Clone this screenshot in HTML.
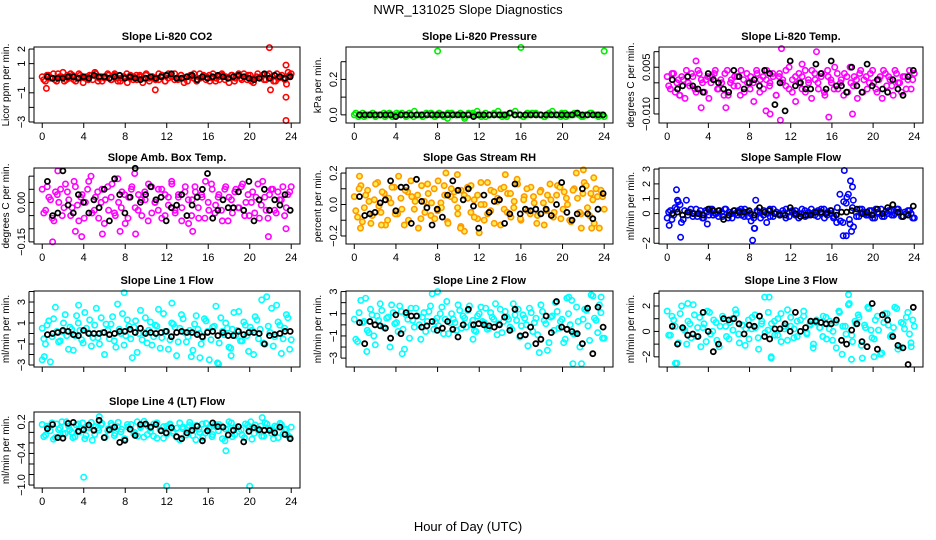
<!DOCTYPE html>
<html><head><meta charset="utf-8"><style>
html,body{margin:0;padding:0;background:#fff;}
svg{display:block;font-family:"Liberation Sans",Arial,sans-serif;}
</style></head><body>
<svg id="chart" width="936" height="540" viewBox="0 0 936 540" xmlns="http://www.w3.org/2000/svg">
<rect width="936" height="540" fill="#fff"/>
<text x="468" y="14" text-anchor="middle" font-size="13">NWR_131025  Slope Diagnostics</text>
<text x="468" y="531" text-anchor="middle" font-size="13">Hour of Day (UTC)</text>
</svg>
<script>
const xTicks = [0,4,8,12,16,20,24];

const co2A = [0.1,-0.2,0.2,0,-0.1,0.3,0.1,-0.2,0.2,0.3,-0.1,0,0.2,-0.3,0.1,0.2,-0.1,0.3,0,-0.2,0.1,0.2,-0.1,0.3,-0.2,0,0.1,-0.3,0.2,0.1,-0.1,0.2,0,0.3,-0.2,0.1,0,-0.1,0.2,-0.2,0.3,0.1,-0.1,0,0.2,-0.3,0.1,0.2,0,-0.2,0.3,0.1,-0.1,0.2,0,-0.2,0.1,0.3,-0.1,0,0.2,-0.2,0.1,0,0.3,-0.1,0.2,-0.3,0.1,0,0.2,-0.1,0.3,0.1,-0.2,0,0.2,-0.1,0.1,0.3];
const co2B = [-0.1,0.2,0,0.3,-0.2,0.1,0.4,-0.1,0,0.2,-0.2,0.3,0.1,0,-0.1,0.2,0.4,-0.2,0.1,0,0.3,-0.1,0.2,0,-0.2,0.1,0.3,0,-0.1,0.2,0.1,-0.3,0.2,0,0.1,-0.1,0.3,0.2,-0.2,0,0.1,0.3,-0.1,0.2,0,-0.2,0.1,0.3,-0.1,0,0.2,0.1,-0.2,0.3,0,-0.1,0.2,0.1,-0.3,0.2,0,0.3,-0.1,0.1,0.2,-0.2,0,0.3,0.1,-0.1,0.2,0,-0.2,0.3,0.1,0,-0.4,0.2];
const co2Black = [0.1,0,0,0,0.1,0.1,0,0.1,0,0.2,0.1,0.1,0,0.1,0.2,0,0.1,0,-0.1,0,0.1,0,0.1,0.2,0.3,0,0,0.1,0.2,-0.1,0.1,0,0.1,0.2,0.1,0,0.1,0.2,0.1,0,-0.1,0,0.3,0,0.2,0.1,0,0.1];
const co2OutX = [0.4,10.9,21.9,22,23.5,23.5,23.5,23.7];
const co2OutY = [-0.7,-0.8,2.1,-0.8,0.9,-1.3,-2.9,0.4];

const presA = [0,-0.01,0.01,0,0,-0.01,0,0.01,0,-0.01,0.01,0,0,0.01,-0.01,0,0,0.01,0,-0.01,0.01,0,-0.02,0.01,0,0,-0.01,0.01,0,0.02,0,-0.01,0,0.01,0,0,-0.01,0.01,0.02,0,-0.01,0,0.01,0,0,-0.01,0.01,0,0,0.01,-0.01,0,0.01,0,-0.01,0,0.01,0,0,-0.01];
const presB = [0.01,0,-0.01,0,0.01,0,0,-0.01,0.01,0,0,0.01,-0.01,0,0.02,0,-0.01,0,0.01,0,0,-0.01,0.01,0,0,0.01,-0.02,0,0.01,0,-0.01,0.01,0,0,0.02,-0.01,0,0.01,0,0,-0.01,0.01,0,0.01,0,-0.01,0,0.02,0,-0.01,0.01,0,0,0.01,-0.01,0,0.01,0,-0.01,0];
const presBlack = [0,0,0,0,0,0,0,-0.01,0,0,0,0,0,0,0,0,0,0,0,0,0,0,-0.01,0,0,0,0,0,0,0.01,0,0,0,0,0,0,0,0,0,0,0,0,0.01,0,0,0,0,0];
const presOutX = [8,16,24];
const presOutY = [0.36,0.38,0.36];

const tempA = [0.002,-0.002,0.003,0,-0.004,0.001,0.004,-0.001,0.002,-0.003,0.003,0,0.001,-0.005,0.002,0.004,-0.002,0,0.003,-0.004,0.001,0.002,-0.001,0.004,-0.003,0,0.002,-0.006,0.003,0.001,-0.002,0.004,0,0.002,-0.004,0.003,0.001,-0.001,0.005,-0.003,0.002,0,-0.002,0.004,0.001,-0.005,0.003,0,0.002,-0.003,0.004,0.001,-0.002,0.003,0,-0.004,0.002,0.005,-0.001,0.001,0.003,-0.003,0.002,0,0.004,-0.002,0.001,-0.005,0.003,0.002,-0.001,0.004,0,-0.003,0.002,0.001,-0.002,0.003];
const tempB = [-0.001,0.003,-0.003,0.001,0.002,-0.005,0,0.003,-0.002,0.004,0.001,-0.003,0.002,0,0.003,-0.002,0.001,-0.004,0.004,0,-0.001,0.002,-0.004,0.001,0.003,-0.002,0,0.004,-0.003,0.002,0.001,-0.001,0.003,-0.004,0.002,0,0.004,-0.002,0.001,-0.006,0.003,0.002,-0.003,0,0.004,0.001,-0.002,0.003,-0.004,0.002,0,0.005,-0.002,0.001,0.003,-0.003,0,0.002,-0.005,0.004,0.001,-0.002,0.003,0,-0.003,0.002,0.004,-0.001,0.001,-0.004,0.003,0,0.002,-0.002,0.004,0.001];
const tempBlack = [0.001,-0.002,-0.001,0.002,-0.001,-0.002,-0.003,0.003,0.001,0,-0.002,-0.003,0.004,0.002,-0.002,0,0.001,-0.001,0.004,0.003,-0.007,0,-0.009,0.007,-0.001,0,-0.002,-0.002,0.006,0.003,-0.002,0.007,-0.001,-0.001,-0.003,0.005,-0.001,-0.003,0.006,-0.001,0.001,-0.002,-0.003,0.001,-0.002,-0.004,0.002,0.004];
const tempOutX = [1.2,3.3,5.7,9.6,10,11,11.1,14.5,15.7,18,13.1,2.8];
const tempOutY = [-0.004,-0.008,-0.008,-0.009,-0.010,-0.012,0.011,0.010,-0.011,-0.010,0.006,0.007];

const ambA = [0.05,-0.03,0.02,-0.06,0.04,0,-0.05,0.07,0.01,-0.02,0.06,-0.07,0.03,0,0.08,-0.04,0.02,-0.06,0.05,0.01,-0.03,0.07,-0.05,0,0.04,-0.08,0.02,0.06,-0.02,0.03,-0.05,0.01,0.07,-0.04,0,0.05,-0.06,0.03,-0.01,0.08,-0.03,0.02,-0.07,0.04,0.01,-0.05,0.06,-0.02,0.03,-0.06,0,0.07,-0.04,0.02,-0.03,0.05,-0.07,0.01,0.04,-0.02,0.06,-0.05,0.03,0,-0.04,0.07,-0.01,0.02,-0.06,0.05,-0.03,0.04,0.01,-0.05,0.03,0.06];
const ambB = [-0.04,0.06,0.01,-0.07,0.03,0.05,-0.02,0.04,-0.05,0.08,-0.01,0.02,-0.06,0.05,0.1,-0.03,0.04,0,-0.08,0.06,0.02,-0.04,0.09,-0.02,0.03,-0.06,0.05,0.11,-0.03,0.01,0.04,-0.07,0.06,0,-0.03,0.05,-0.05,0.02,0.07,-0.04,0.03,-0.02,0.06,-0.08,0.01,0.04,-0.06,0.02,0.08,-0.03,0.05,-0.01,0.03,-0.07,0.06,0.02,-0.04,0.05,-0.02,0.07,0,-0.05,0.04,0.02,-0.06,0.08,-0.03,0.03,0.05,-0.04,0.01,0.06,-0.02,0.04];
const ambBlack = [0.08,-0.05,-0.04,0.12,-0.01,-0.04,0.03,0,-0.04,0.01,-0.02,0.05,-0.07,0.09,0.03,-0.04,0.02,0.13,0,0.03,0.06,0.01,0.02,-0.07,-0.02,-0.01,0.03,-0.05,-0.01,0.02,0.05,0.11,-0.06,-0.03,0.01,-0.02,-0.02,0.04,-0.03,0.08,-0.07,0.01,0.05,-0.03,0.01,-0.01,0.03,-0.03];
const ambOutX = [1,3.2,3.8,5.8,7.5,9,14.5,21.8,23.5,1.5];
const ambOutY = [-0.15,-0.11,-0.13,-0.12,-0.11,-0.12,-0.11,-0.13,-0.1,0.12];

const rhA = [0.05,-0.08,0.12,-0.02,0.09,-0.12,0.03,0.14,-0.05,0.07,-0.1,0.01,0.11,-0.06,0.04,-0.13,0.08,0.15,-0.03,0.06,-0.09,0.02,0.13,-0.07,0.1,-0.04,0.01,0.12,-0.11,0.05,0.08,-0.02,-0.14,0.06,0.11,-0.05,0.03,-0.09,0.14,0,-0.06,0.09,-0.12,0.04,0.1,-0.03,0.07,-0.08,0.02,0.13,-0.1,0.05,-0.04,0.11,0.01,-0.07,0.09,-0.13,0.06,0.03,-0.05,0.12,-0.09,0.08,0,-0.11,0.1,0.04,-0.06,0.14,-0.02,0.07,-0.12,0.05,0.09,-0.03];
const rhB = [-0.04,0.1,-0.11,0.06,0.02,-0.07,0.13,-0.01,0.08,-0.13,0.04,0.11,-0.06,0.18,-0.03,0.09,-0.1,0.05,0.02,-0.15,0.12,-0.05,0.07,0.01,-0.09,0.15,-0.02,0.06,-0.12,0.1,0.03,-0.06,0.09,-0.17,0.04,0.12,-0.08,0.06,0,-0.1,0.14,-0.04,0.08,0.02,-0.13,0.11,-0.05,0.07,-0.02,0.16,-0.09,0.03,0.1,-0.06,0.05,-0.12,0.08,0.01,-0.04,0.13,-0.08,0.06,0.11,-0.03,0.04,-0.1,0.09,0.2,-0.05,0.07,0.12,-0.07,0.03,0.1,-0.15,0.05];
const rhBlack = [0.05,-0.07,-0.06,-0.05,0.01,0.03,0.15,-0.04,0.11,0.11,-0.12,0.16,0.02,-0.02,-0.13,-0.03,-0.08,0.06,0.15,0.09,0.03,0.1,-0.01,-0.15,0.06,-0.05,0.02,0.03,-0.12,-0.06,0.13,-0.06,-0.03,-0.04,-0.03,-0.06,-0.03,-0.07,0,0.14,-0.05,-0.1,-0.06,0.1,-0.06,-0.09,-0.03,0.07];
const rhOutX = [0.5,0.6,2.6,8.8,9.9,10.2,12,14.5,22,22.8,21.8,23];
const rhOutY = [0.18,-0.15,-0.13,0.2,0.19,-0.15,-0.18,0.19,0.22,-0.15,-0.15,0.17];

const sfA = [-0.3,0.2,-0.1,0.3,0.6,-0.4,0.9,0.1,-0.2,0.3,0,-0.3,0.2,-0.1,0.3,0,-0.2,0.1,0.3,-0.3,0,0.2,-0.1,0.3,-0.2,0.1,0,-0.3,0.2,0.1,-0.1,-0.6,0.3,-0.2,0.1,0,0.2,-0.3,0.1,0.2,-0.1,0,0.3,-0.2,0.1,0,-0.1,0.2,0.3,-0.3,0.1,0,-0.2,0.4,-0.5,0.8,1.1,-0.7,0.9,-0.2,0.3,0.1,-0.1,0.2,-0.3,0.3,0,-0.2,0.1,0.2,-0.1,0,0.3,-0.2,0.1,0.2,0,-0.3];
const sfB = [0.1,-0.4,0.4,0.8,-0.6,0.2,-0.1,0.3,0,-0.2,0.2,-0.3,0.1,0.3,-0.1,0,0.2,-0.2,0.3,0.1,-0.3,0,0.2,-0.1,0.3,-0.2,-0.5,-1,0.1,-0.3,0.2,0,-0.2,0.3,0.1,-0.1,0,0.3,-0.2,0.1,0.2,-0.3,0,0.2,-0.1,0.3,0.1,-0.2,0,0.3,-0.1,0.2,-0.3,-0.6,1.3,-0.6,0.7,-0.4,0.4,0.1,-0.2,0.3,0,-0.1,0.2,-0.3,0.1,0.3,-0.2,0,0.2,-0.1,0.3,0.1,-0.2,0,0.2,-0.3];
const sfBlack = [0,0.1,-0.1,0.1,0,0,-0.1,0.3,0.2,0.2,-0.4,-0.1,0.2,0.1,0.1,0.2,-0.1,0.4,0.1,0.2,0,-0.1,-0.1,0.4,0,-0.2,-0.1,-0.1,0.1,0.1,0,0.2,-0.1,0.1,0.1,0.2,0.3,0,0.1,-0.1,0.3,0,0.4,0.6,0.1,-0.2,-0.1,0.5];
const sfOutX = [0.2,0.9,1,1.3,3.9,8.3,8.5,8.6,17.2,17.6,17.8,18,18.1,17.1,17.4,17.9];
const sfOutY = [-0.8,1.6,0.9,-1.6,-0.7,-1.8,-1,0.9,2.9,1.3,2.2,1.8,-0.9,-1.5,-1.5,-1.2];

const l1A = [0.5,-1,1.2,-0.3,2.5,-0.8,0.2,1.8,-1.5,0.4,-0.2,1,-0.6,2,0.1,-1.2,0.8,-0.4,1.5,-2,0.3,0.9,-0.7,2.8,0,-1.1,1.3,-0.5,0.6,-1.8,2.2,0.1,-0.9,1.1,-0.3,0.7,-1.4,1.9,0.2,-0.6,0.9,-2.1,0.5,1.4,-0.8,0.3,-1.6,1.7,0,-0.4,1.2,-2.5,0.6,2.6,-0.9,0.2,1,-1.3,0.4,-0.2,2.1,-0.7,0.8,-1.7,0.3,1.6,-0.5,3.2,-1,0.7,2.4,-0.3,1.1,-1.9,0.5,1.5,-0.6];
const l1B = [-0.5,0.8,-2.7,1.4,0.2,-0.7,1,-0.2,0.6,-1.6,1.7,0.3,-0.9,0.5,1.3,-0.4,2.4,-1,0.1,0.9,-0.5,1.6,-1.3,0.4,1.9,-0.2,0.7,-2.3,1.2,0,-0.6,1.5,0.3,-1.1,0.8,2.3,-0.4,0.2,-1.5,1,0.6,-0.8,1.8,0.1,-0.3,-2.2,0.9,0.4,-1,1.4,0.2,-0.6,0.7,-2.8,1.5,-0.1,0.5,-1.4,2,0.3,-0.7,1.1,-0.2,0.6,-2,1.3,0.4,-0.9,3.5,0.1,-1.2,2.7,0.8,-0.5,1.8,-1.5];
const l1Black = [-0.1,0,0.1,0.3,0.2,-0.1,-0.2,0.3,0,0,0,0.1,-0.1,0,0.2,0.2,0.4,0.1,0.5,0,0.1,0,0.1,0.2,-0.3,0.1,0.2,0.1,0.1,-0.1,-0.3,0.1,0.2,-0.2,0.1,-0.2,-0.2,0.2,-0.1,0.1,0.1,0,-1,-0.2,-0.1,0,0.2,0.2];
const l1OutX = [0,0.2,7.9,17,15.2,18.2,12.5,3.5];
const l1OutY = [-2.5,-2.2,3.9,-2.9,-2.3,-2.1,2.9,2.7];

const l2A = [0.5,-1.5,2.2,0.3,-0.5,1.4,-1,0.8,1.9,-0.2,0.6,-2,1.1,0.2,1.7,-0.4,0.9,-1.2,0.4,1.5,0,0.7,-0.6,1.2,2.8,0.3,-0.1,1.6,0.5,-0.8,1,0.2,1.8,-0.3,0.6,1.3,0,-0.5,0.8,1.6,0.2,-0.4,1.1,0.5,-0.9,1.4,0.3,0.7,-0.2,1.9,0.4,-1.1,0.9,0,1.5,-0.6,0.6,-2.5,1.2,0.1,-1.6,0.8,2,-0.3,0.5,-1.3,1,2.2,-0.8,0.3,-3.5,1.4,-0.1,2.7,0.6,-0.7,1.1,-1.2];
const l2B = [-1.3,1.1,0.2,2.4,-0.7,0.9,-1.8,0.4,1.3,-0.3,0.7,1.8,0.1,-0.6,1.2,-2.2,0.5,1.5,-0.2,0.8,-1.3,1.1,0.3,1.7,-0.4,0.6,1,-0.8,2.1,0.2,0.5,-0.5,1.3,0.8,-0.2,1.7,0.4,-0.6,1,0.3,1.5,-0.3,0.7,1.9,0.1,-0.7,1.2,0.5,-0.4,0.9,1.4,-0.1,0.6,-1.9,1.1,0.2,-0.9,1.8,0.4,-2.3,0.7,-0.5,1.2,0.3,-1.6,2.4,0,-0.8,1.6,-2,0.5,1.3,-1.4,2.6,0.4,1.8,-1.2];
const l2Black = [0.2,-1.7,0.3,0,-0.1,-0.3,-1.2,0.9,-0.8,1.1,0.8,0.8,-0.2,-0.1,0.3,-0.5,-0.3,0.3,-0.4,-1.1,0,1.4,0,0.1,0,-0.1,-0.2,0,0.7,-0.5,1.4,-1,-0.9,-0.2,-1.7,-1.3,0.8,-0.7,2.1,-0.2,-0.4,-0.6,-0.8,-1.7,1.5,-2.6,1.6,-0.2];
const l2OutX = [4.6,8,20.6,21,23.7,1.2,11.4];
const l2OutY = [-2.6,3,2.5,-3.5,2.5,-2.4,-1.3];

const l3A = [1.6,-0.3,0.9,-2.5,1.4,0.2,-1,0.6,2.1,-0.4,1.1,0.3,-0.8,1.5,0,0.7,-1.2,1.2,0.4,-0.6,1,1.7,-0.2,0.5,-1.1,0.9,0.2,1.3,-0.5,0.6,2.7,0.1,-2,0.8,-0.3,1.4,0.4,-0.7,1.1,0.2,-0.4,0.9,1.6,-0.1,0.5,-1,0.7,0.3,1.2,-0.6,0.8,0,-1.3,1.5,0.4,-0.2,2.2,-0.8,0.6,1.1,-2.1,0.3,1.8,-0.5,0.9,0.1,-1.7,1.4,0.5,-0.3,1.9,-1.4,0.7,0.2,1.5,-0.9,0.4];
const l3B = [-0.3,1.2,0.4,-0.9,2,0.1,0.8,-0.5,1.3,0.3,-1.2,0.6,1.6,-0.2,0.9,-0.7,0.4,1,-0.4,0.7,0.1,1.4,-0.9,0.5,0.2,-0.6,1.1,0.3,-1.4,0.8,-0.1,1.5,0.6,-0.3,1,-0.8,0.2,1.7,0.4,-0.5,0.8,0,1.2,-0.2,0.6,-1.3,0.9,0.3,-0.4,1.1,0.2,-0.7,0.7,1.6,-1.8,0.4,2.9,-0.3,0.8,1.3,-1.1,0.5,1.9,0.1,-0.6,1.2,-1.8,0.7,1.4,-0.4,0.3,1.8,-1.2,0.6,1.1,-0.2,0.9];
const l3Black = [0.4,-1,0.3,-0.3,-0.2,-0.4,1.5,0,-1.6,-1,1,0.9,1,0.6,-0.2,0.5,0.4,1.2,-0.4,-0.6,0.2,0.2,0.6,0,1.5,0,0.3,0.8,0.8,0.7,0.6,0.6,0.9,-0.7,-1,0.1,0.6,-0.8,-1.2,2.2,-1.4,1.3,0.9,-0.4,-1.1,-1.3,-2.6,1.9];
const l3OutX = [0.8,9.9,10.1,2,17.6,17.9,20.1,23.7];
const l3OutY = [-2.5,2.7,-2.1,2.2,2.1,-2.2,-2,-1.2];

const l4A = [0.15,-0.05,0.1,0.18,-0.1,0.05,0.2,-0.02,0.12,0,-0.08,0.16,0.07,-0.12,0.1,0.19,-0.04,0.08,0.14,-0.1,0.03,0.17,-0.06,0.11,0.01,-0.13,0.15,0.06,-0.03,0.2,0.09,-0.09,0.13,0.02,-0.07,0.18,0.05,-0.11,0.12,0.16,-0.02,0.08,-0.14,0.1,0.04,0.19,-0.06,0.13,0,-0.1,0.17,0.07,-0.04,0.11,0.15,-0.12,0.06,0.2,-0.08,0.09,0.02,-0.05,0.16,0.1,-0.13,0.14,0.03,-0.07,0.18,0.08,-0.02,0.12,-0.1,0.15,0.05,-0.06,0.1];
const l4B = [-0.08,0.12,0.03,-0.13,0.16,0.08,-0.03,0.2,0.05,-0.1,0.14,0.01,0.18,-0.06,0.09,-0.15,0.11,0.04,0.17,-0.09,0.07,0.13,-0.02,0.19,0.06,-0.12,0.1,0.15,0,-0.07,0.12,0.21,-0.04,0.08,0.16,-0.11,0.05,0.11,-0.03,0.14,0.02,-0.09,0.18,0.07,-0.05,0.13,0.1,-0.14,0.06,0.16,-0.01,0.09,-0.08,0.15,0.03,0.12,-0.16,0.07,0.18,-0.04,0.11,0.05,-0.1,0.14,0.2,-0.02,0.08,0.12,-0.07,0.16,0.04,-0.12,0.1,0.17,-0.03,0.06,-0.09];
const l4Black = [0.07,0.15,-0.1,-0.11,0.17,0.19,0.02,0.05,0.14,0.04,0.23,-0.1,0.05,0.1,-0.19,-0.15,0.06,-0.06,0.15,0.16,0.1,0.15,0.03,-0.01,0.09,-0.08,-0.12,-0.01,0.04,0.12,-0.16,0.03,0.18,0.11,0.1,-0.05,0.04,0.11,-0.18,0.02,0.09,0.05,0.04,0.04,-0.01,0.1,-0.04,-0.12];
const l4OutX = [4,12,20,17.7,5.5,21.2];
const l4OutY = [-0.85,-1.02,-1.02,-0.35,0.3,0.28];

const panels = [
 {name:'co2',title:'Slope Li-820 CO2',ylab:'Licor ppm per min.',col:0,row:0,yTop:2.14,yBot:-3.07,ticks:[2,1,0,-1,-2,-3],labels:[[2,'2'],[1,'1'],[-1,'\u22121'],[-3,'\u22123']],color:'#ff0000',fill:'none',A:co2A,B:co2B,K:co2Black,ox:co2OutX,oy:co2OutY,xl:true},
 {name:'pressure',title:'Slope Li-820 Pressure',ylab:'kPa per min.',col:1,row:0,yTop:0.383,yBot:-0.046,ticks:[0,0.1,0.2,0.3],labels:[[0,'0.0'],[0.2,'0.2']],color:'#00ee00',fill:'none',A:presA,B:presB,K:presBlack,ox:presOutX,oy:presOutY,xl:true},
 {name:'li820-temp',title:'Slope Li-820 Temp.',ylab:'degrees C per min.',col:2,row:0,yTop:0.0115,yBot:-0.0129,ticks:[0.01,0.005,0,-0.005,-0.01],labels:[[0.005,'0.005'],[-0.01,'\u22120.010']],color:'#ff00ff',fill:'none',A:tempA,B:tempB,K:tempBlack,ox:tempOutX,oy:tempOutY,xl:true},
 {name:'amb-box-temp',title:'Slope Amb. Box Temp.',ylab:'degrees C per min.',col:0,row:1,yTop:0.131,yBot:-0.158,ticks:[0.1,0.05,0,-0.05,-0.1,-0.15],labels:[[0,'0.00'],[-0.15,'\u22120.15']],color:'#ff00ff',fill:'none',A:ambA,B:ambB,K:ambBlack,ox:ambOutX,oy:ambOutY,xl:true},
 {name:'gas-stream-rh',title:'Slope Gas Stream RH',ylab:'percent per min.',col:1,row:1,yTop:0.232,yBot:-0.251,ticks:[0.2,0.1,0,-0.1,-0.2],labels:[[0.2,'0.2'],[0,'0.0'],[-0.2,'\u22120.2']],color:'#ff9900',fill:'#ffee55',A:rhA,B:rhB,K:rhBlack,ox:rhOutX,oy:rhOutY,xl:true},
 {name:'sample-flow',title:'Slope Sample Flow',ylab:'ml/min per min.',col:2,row:1,yTop:3.07,yBot:-2.05,ticks:[3,2,1,0,-1,-2],labels:[[3,'3'],[2,'2'],[1,'1'],[0,'0'],[-2,'\u22122']],color:'#0000ff',fill:'none',A:sfA,B:sfB,K:sfBlack,ox:sfOutX,oy:sfOutY,xl:true},
 {name:'line1-flow',title:'Slope Line 1 Flow',ylab:'ml/min per min.',col:0,row:2,yTop:4.05,yBot:-3.19,ticks:[4,3,2,1,0,-1,-2,-3],labels:[[3,'3'],[1,'1'],[-1,'\u22121'],[-3,'\u22123']],color:'#00ffff',fill:'none',A:l1A,B:l1B,K:l1Black,ox:l1OutX,oy:l1OutY,xl:false},
 {name:'line2-flow',title:'Slope Line 2 Flow',ylab:'ml/min per min.',col:1,row:2,yTop:3.05,yBot:-3.8,ticks:[3,2,1,0,-1,-2,-3],labels:[[3,'3'],[1,'1'],[-1,'\u22121'],[-3,'\u22123']],color:'#00ffff',fill:'none',A:l2A,B:l2B,K:l2Black,ox:l2OutX,oy:l2OutY,xl:false},
 {name:'line3-flow',title:'Slope Line 3 Flow',ylab:'ml/min per min.',col:2,row:2,yTop:3.18,yBot:-2.8,ticks:[3,2,1,0,-1,-2],labels:[[2,'2'],[0,'0'],[-2,'\u22122']],color:'#00ffff',fill:'none',A:l3A,B:l3B,K:l3Black,ox:l3OutX,oy:l3OutY,xl:false},
 {name:'line4-flow',title:'Slope Line 4 (LT) Flow',ylab:'ml/min per min.',col:0,row:3,yTop:0.387,yBot:-1.056,ticks:[0.2,0,-0.2,-0.4,-0.6,-0.8,-1.0],labels:[[0.2,'0.2'],[-0.4,'\u22120.4'],[-1.0,'\u22121.0']],color:'#00ffff',fill:'none',A:l4A,B:l4B,K:l4Black,ox:l4OutX,oy:l4OutY,xl:true}
];

const NS='http://www.w3.org/2000/svg';
const svg=document.getElementById('chart');
const colLeft=[34,346,659], colRight=[300,613,923];
const rowTop=[47,168,291,412], boxH=76;
function mk(tag,attrs,parent){const e=document.createElementNS(NS,tag);for(const k in attrs)e.setAttribute(k,attrs[k]);(parent||svg).appendChild(e);return e;}

panels.forEach(p=>{
  const L=colLeft[p.col],R=colRight[p.col],T=rowTop[p.row],B=T+boxH;
  const x0=L+(R-L)*0.031, x1=R-(R-L)*0.033;
  const xs=h=>x0+(x1-x0)*h/24;
  const ys=v=>T+(p.yTop-v)/(p.yTop-p.yBot)*boxH;
  const g=mk('g',{});
  
  
  const t=mk('text',{x:(L+R)/2,y:T-7,'text-anchor':'middle','font-size':'11','font-weight':'bold'},g);
  t.textContent=p.title;
  
  
  const pts=mk('g',{},g);
  
  
  const dot=(h,v,stroke,fill,sw,r)=>{
    const c=mk('circle',{cx:xs(h).toFixed(1),cy:ys(v).toFixed(1),r:r,fill:fill,stroke:stroke,'stroke-width':sw},pts);
    
    
  };
  p.A.forEach((v,i)=>dot(i*24/(p.A.length-1),v,p.color,p.fill,1.6,2.7));
  p.B.forEach((v,i)=>dot(0.15+i*23.7/(p.B.length-1),v,p.color,p.fill,1.6,2.7));
  p.ox.forEach((h,i)=>dot(h,p.oy[i],p.color,p.fill,1.6,2.7));
  p.K.forEach((v,i)=>dot(0.5+i*23.4/(p.K.length-1),v,'#000','none',1.8,2.5));
  const box=mk('rect',{x:L,y:T,width:R-L,height:boxH,fill:'none',stroke:'#000','stroke-width':1},g);
  
  
  const xa=mk('g',{},g);
  
  
  mk('line',{x1:xs(0),x2:xs(24),y1:B,y2:B,stroke:'#000'},xa);
  xTicks.forEach(h=>{
    mk('line',{x1:xs(h),x2:xs(h),y1:B,y2:B+5,stroke:'#000'},xa);
    if(p.xl){const tx=mk('text',{x:xs(h),y:B+17,'text-anchor':'middle','font-size':'11'},xa);tx.textContent=h;}
  });
  const ya=mk('g',{},g);
  
  
  mk('line',{x1:L-5,x2:L-5,y1:ys(p.ticks[0]),y2:ys(p.ticks[p.ticks.length-1]),stroke:'#000'},ya);
  p.ticks.forEach(v=>mk('line',{x1:L-5,x2:L,y1:ys(v),y2:ys(v),stroke:'#000'},ya));
  p.labels.forEach(([v,s])=>{
    const yy=ys(v);
    const tx=mk('text',{x:L-9,y:yy,'text-anchor':'middle','font-size':'11',transform:`rotate(-90 ${L-9} ${yy})`},ya);
    tx.textContent=s;
  });
  const yt=mk('text',{x:L-25,y:T+boxH/2,'text-anchor':'middle','font-size':'10',transform:`rotate(-90 ${L-25} ${T+boxH/2})`},g);
  yt.textContent=p.ylab;
  
  
});
</script>
</body></html>
